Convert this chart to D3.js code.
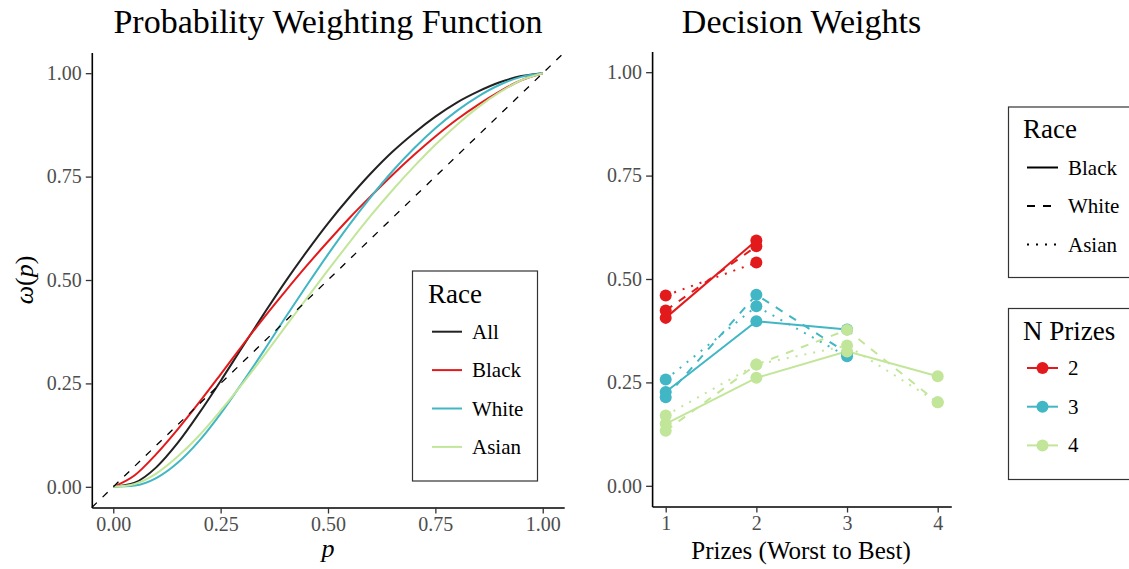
<!DOCTYPE html>
<html>
<head>
<meta charset="utf-8">
<title></title>
<script src="https://cdn.jsdelivr.net/npm/d3@7"></script>
<style>
body{margin:0;background:#fff;}
text{font-family:"Liberation Serif",serif;}
</style>
</head>
<body>
<script>
// probability grid and weighting curves
var pGrid  = [0,0.05,0.10,0.15,0.20,0.25,0.30,0.35,0.40,0.45,0.50,0.55,0.60,0.65,0.70,0.75,0.80,0.85,0.90,0.95,1];
var wAll   = [0,0.010,0.047,0.106,0.178,0.256,0.337,0.417,0.495,0.568,0.637,0.700,0.758,0.810,0.855,0.895,0.929,0.956,0.978,0.993,1];
var wBlack = [0,0.028,0.079,0.139,0.204,0.272,0.341,0.408,0.472,0.534,0.593,0.650,0.703,0.754,0.802,0.847,0.888,0.924,0.956,0.983,1];
var wWhite = [0,0.003,0.021,0.058,0.111,0.177,0.251,0.328,0.408,0.486,0.562,0.634,0.701,0.763,0.818,0.867,0.909,0.944,0.972,0.991,1];
var wAsian = [0,0.007,0.032,0.073,0.124,0.184,0.248,0.316,0.386,0.455,0.524,0.591,0.656,0.717,0.774,0.827,0.875,0.918,0.954,0.983,1];

// decision weights by race and number of prizes (prize 1 = worst)
var dwBlackN2 = [0.406,0.593];
var dwBlackN3 = [0.227,0.398,0.378];
var dwBlackN4 = [0.150,0.261,0.325,0.265];
var dwWhiteN2 = [0.424,0.579];
var dwWhiteN3 = [0.214,0.462,0.321];
var dwWhiteN4 = [0.133,0.293,0.377,0.202];
var dwAsianN2 = [0.460,0.540];
var dwAsianN3 = [0.257,0.434,0.313];
var dwAsianN4 = [0.170,0.293,0.339,0.202];

var yTicks = [0,0.25,0.5,0.75,1];
var xTicksLeft = [0,0.25,0.5,0.75,1];
var xTicksRight = [1,2,3,4];
var nPrizesList = [2,3,4];

var raceCurves = [
  {name:"All",   color:"#222222", w:wAll},
  {name:"Black", color:"#e31a1c", w:wBlack},
  {name:"White", color:"#41b6c4", w:wWhite},
  {name:"Asian", color:"#c2e699", w:wAsian}
];
var nColor = {2:"#e31a1c", 3:"#41b6c4", 4:"#c2e699"};
var raceDash = {Black:null, White:"8,8", Asian:"2,7"};

var groups = [
  {race:"Black", n:2, v:dwBlackN2}, {race:"White", n:2, v:dwWhiteN2}, {race:"Asian", n:2, v:dwAsianN2},
  {race:"Black", n:3, v:dwBlackN3}, {race:"White", n:3, v:dwWhiteN3}, {race:"Asian", n:3, v:dwAsianN3},
  {race:"Black", n:4, v:dwBlackN4}, {race:"White", n:4, v:dwWhiteN4}, {race:"Asian", n:4, v:dwAsianN4}
];

var svg = d3.select("body").append("svg")
  .attr("width",1129).attr("height",569);

var fmt2 = d3.format(".2f");

function styleAxis(g){
  g.select(".domain").attr("stroke","#000").attr("stroke-width",1.6);
  g.selectAll(".tick line").attr("stroke","#333").attr("stroke-width",1.3);
  g.selectAll(".tick text").attr("fill","#4d4d4d")
    .style("font-family","Liberation Serif").style("font-size","20px");
}

// ---- left panel ----
var x1 = d3.scaleLinear().domain([-0.05,1.05]).range([91.8,564.2]);
var y1 = d3.scaleLinear().domain([-0.05,1.05]).range([507.5,52.5]);

var line1 = d3.line()
  .x(function(d){return x1(d[0]);})
  .y(function(d){return y1(d[1]);})
  .curve(d3.curveMonotoneX);

svg.selectAll(".curve").data(raceCurves).enter()
  .append("path")
  .attr("class","curve")
  .attr("fill","none")
  .attr("stroke",function(d){return d.color;})
  .attr("stroke-width",2)
  .attr("d",function(d){return line1(pGrid.map(function(p,i){return [p,d.w[i]];}));});

// 45 degree reference
svg.append("line")
  .attr("x1",x1(-0.05)).attr("y1",y1(-0.05))
  .attr("x2",x1(1.05)).attr("y2",y1(1.05))
  .attr("stroke","#000").attr("stroke-width",1.3)
  .attr("stroke-dasharray","7,8");

svg.append("g")
  .attr("transform","translate(" + x1(-0.05) + ",0)")
  .call(d3.axisLeft(y1).tickValues(yTicks).tickFormat(fmt2).tickSize(6).tickSizeOuter(0).tickPadding(4))
  .call(styleAxis);
svg.append("g")
  .attr("transform","translate(0," + y1(-0.05) + ")")
  .call(d3.axisBottom(x1).tickValues(xTicksLeft).tickFormat(fmt2).tickSize(6).tickSizeOuter(0).tickPadding(3))
  .call(styleAxis);

svg.append("text").attr("x",328).attr("y",33).attr("text-anchor","middle")
  .style("font-size","34px").text("Probability Weighting Function");

svg.append("text").attr("x",328).attr("y",557).attr("text-anchor","middle")
  .style("font-size","26px").style("font-style","italic").text("p");

var ylab = svg.append("text")
  .attr("transform","translate(33,280) rotate(-90)")
  .attr("text-anchor","middle").style("font-size","26px");
ylab.append("tspan").style("font-style","italic").text("ω");
ylab.append("tspan").text("(");
ylab.append("tspan").style("font-style","italic").text("p");
ylab.append("tspan").text(")");

// left legend
var leg1 = svg.append("g");
leg1.append("rect").attr("x",412.5).attr("y",271).attr("width",125).attr("height",210)
  .attr("fill","#fff").attr("stroke","#333").attr("stroke-width",1.2);
leg1.append("text").attr("x",428).attr("y",303).style("font-size","27px").text("Race");
raceCurves.forEach(function(d,i){
  var yy = 331.7 + i*38.4;
  leg1.append("line").attr("x1",432).attr("x2",462).attr("y1",yy).attr("y2",yy)
    .attr("stroke",d.color).attr("stroke-width",2);
  leg1.append("text").attr("x",472).attr("y",yy+7).style("font-size","21px").text(d.name);
});

// ---- right panel ----
var x2 = d3.scaleLinear().domain([0.85,4.15]).range([652.1,951.3]);
var y2 = d3.scaleLinear().domain([-0.05,1.05]).range([506.5,51.5]);

var line2 = d3.line()
  .x(function(d){return x2(d[0]);})
  .y(function(d){return y2(d[1]);});

svg.selectAll(".dw").data(groups).enter()
  .append("path")
  .attr("class","dw")
  .attr("fill","none")
  .attr("stroke",function(d){return nColor[d.n];})
  .attr("stroke-width",2)
  .attr("stroke-dasharray",function(d){return raceDash[d.race];})
  .attr("d",function(d){return line2(d.v.map(function(v,i){return [xTicksRight[i],v];}));});

groups.forEach(function(d){
  svg.selectAll(null).data(d.v).enter()
    .append("circle")
    .attr("cx",function(v,i){return x2(xTicksRight[i]);})
    .attr("cy",function(v){return y2(v);})
    .attr("r",6)
    .attr("fill",nColor[d.n]);
});

svg.append("g")
  .attr("transform","translate(" + x2(0.85) + ",0)")
  .call(d3.axisLeft(y2).tickValues(yTicks).tickFormat(fmt2).tickSize(6).tickSizeOuter(0).tickPadding(4))
  .call(styleAxis);
svg.append("g")
  .attr("transform","translate(0," + y2(-0.05) + ")")
  .call(d3.axisBottom(x2).tickValues(xTicksRight).tickFormat(d3.format("d")).tickSize(6).tickSizeOuter(0).tickPadding(3))
  .call(styleAxis);

svg.append("text").attr("x",801.5).attr("y",33).attr("text-anchor","middle")
  .style("font-size","34px").text("Decision Weights");
svg.append("text").attr("x",801).attr("y",559).attr("text-anchor","middle")
  .style("font-size","25px").text("Prizes (Worst to Best)");

// right legends
var leg2 = svg.append("g");
leg2.append("rect").attr("x",1008.5).attr("y",107).attr("width",130).attr("height",170.5)
  .attr("fill","#fff").attr("stroke","#333").attr("stroke-width",1.2);
leg2.append("text").attr("x",1023).attr("y",138).style("font-size","27px").text("Race");
["Black","White","Asian"].forEach(function(r,i){
  var yy = 167.5 + i*38.5;
  leg2.append("line").attr("x1",1027).attr("x2",1058).attr("y1",yy).attr("y2",yy)
    .attr("stroke","#000").attr("stroke-width",2)
    .attr("stroke-dasharray",raceDash[r]);
  leg2.append("text").attr("x",1068).attr("y",yy+7).style("font-size","21px").text(r);
});

var leg3 = svg.append("g");
leg3.append("rect").attr("x",1008.5).attr("y",308.5).attr("width",130).attr("height",171)
  .attr("fill","#fff").attr("stroke","#333").attr("stroke-width",1.2);
leg3.append("text").attr("x",1023).attr("y",340).style("font-size","27px").text("N Prizes");
nPrizesList.forEach(function(n,i){
  var yy = 368 + i*38.7;
  leg3.append("line").attr("x1",1027).attr("x2",1058).attr("y1",yy).attr("y2",yy)
    .attr("stroke",nColor[n]).attr("stroke-width",2);
  leg3.append("circle").attr("cx",1042.5).attr("cy",yy).attr("r",6).attr("fill",nColor[n]);
  leg3.append("text").attr("x",1068).attr("y",yy+7).style("font-size","21px").text(n);
});
</script>
</body>
</html>
